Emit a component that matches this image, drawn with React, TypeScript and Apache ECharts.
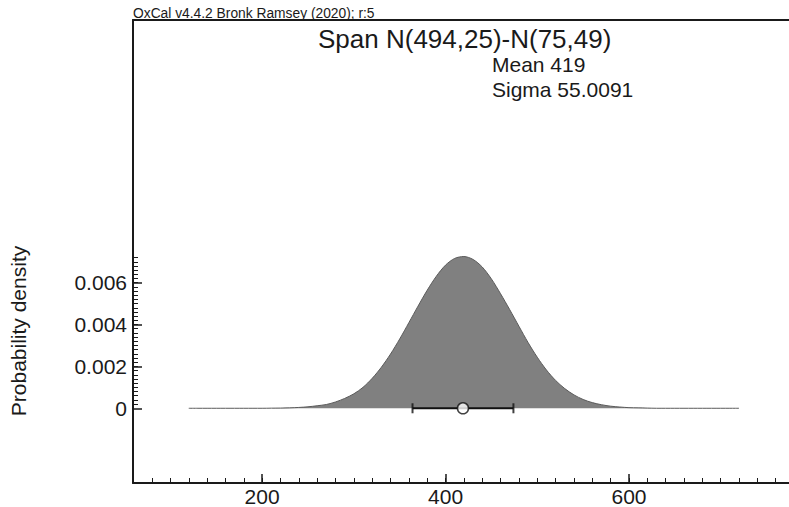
import React, { useEffect, useRef } from "react";
import * as echarts from "echarts";

// ---- data ----
const headerText = "OxCal v4.4.2 Bronk Ramsey (2020); r:5";
const titleText = "Span N(494,25)-N(75,49)";
const meanValue = 419;
const sigmaValue = 55.0091;
const statLines = ["Mean 419", "Sigma 55.0091"];
const yAxisName = "Probability density";

const spanX = [
  120, 130, 140, 150, 160, 170, 180, 190, 200, 210, 220, 230, 240, 250, 260,
  270, 280, 290, 300, 310, 320, 330, 340, 350, 360, 370, 380, 390, 400, 410,
  420, 430, 440, 450, 460, 470, 480, 490, 500, 510, 520, 530, 540, 550, 560,
  570, 580, 590, 600, 610, 620, 630, 640, 650, 660, 670, 680, 690, 700, 710,
  720,
];
const spanDensity = [
  0, 0, 0, 0, 0, 0, 0, 0, 0, 0.000005, 0.00001, 0.00002, 0.00004, 0.00007,
  0.00012, 0.00018, 0.0003, 0.00047, 0.00069, 0.001, 0.00143, 0.00196, 0.00259,
  0.00331, 0.00409, 0.00488, 0.00564, 0.00631, 0.00684, 0.00716, 0.00725,
  0.00711, 0.00675, 0.00618, 0.00547, 0.00471, 0.00392, 0.00314, 0.00244,
  0.00183, 0.00133, 0.00094, 0.00064, 0.00042, 0.00027, 0.00017, 0.0001,
  0.00006, 0.00003, 0.00002, 0.00001, 0, 0, 0, 0, 0, 0, 0, 0, 0, 0,
];

const xMajorTicks = [200, 400, 600];
const xTickLabels = ["200", "400", "600"];
const yMajorTicks = [0, 0.002, 0.004, 0.006];
const yTickLabels = ["0", "0.002", "0.004", "0.006"];

const X_MIN = 59.2;
const X_MAX = 774.5;
const Y_MIN = -0.00357;
const Y_MAX = 0.01855;

const xMinorTicks: number[] = [];
for (let v = 80; v <= 760; v += 20) xMinorTicks.push(v);
const yMinorTicks: number[] = [];
for (let i = 1; i <= 36; i++) yMinorTicks.push(+(i * 0.0002).toFixed(4));

const FONT = "'Liberation Sans', Arial, Helvetica, sans-serif";
const INK = "#1a1a1a";

export default function App() {
  const ref = useRef<HTMLDivElement>(null);

  useEffect(() => {
    if (!ref.current) return;
    const chart = echarts.init(ref.current, undefined, { renderer: "svg" });

    const curve = spanX.map((x, i) => [x, spanDensity[i]]);
    const lo = meanValue - sigmaValue;
    const hi = meanValue + sigmaValue;

    const option: any = {
      animation: false,
      backgroundColor: "#ffffff",
      textStyle: { fontFamily: FONT },
      grid: { left: 133, right: 0, top: 20, bottom: 24, containLabel: false },
      xAxis: [
        {
          type: "value",
          min: X_MIN,
          max: X_MAX,
          position: "bottom",
          axisLine: { show: true, onZero: false, lineStyle: { color: INK, width: 2 } },
          axisTick: {
            show: true,
            inside: true,
            length: 9,
            customValues: xMajorTicks,
            lineStyle: { color: INK, width: 1.5 },
          },
          axisLabel: {
            show: true,
            customValues: xMajorTicks,
            formatter: (v: number) => xTickLabels[xMajorTicks.indexOf(v)] ?? "",
            fontSize: 21,
            color: INK,
            fontFamily: FONT,
            margin: 3,
          },
          splitLine: { show: false },
        },
        {
          type: "value",
          min: X_MIN,
          max: X_MAX,
          position: "bottom",
          axisLine: { show: false, onZero: false },
          axisTick: {
            show: true,
            inside: true,
            length: 5,
            customValues: xMinorTicks,
            lineStyle: { color: INK, width: 1 },
          },
          axisLabel: { show: false },
          splitLine: { show: false },
        },
        {
          type: "value",
          min: X_MIN,
          max: X_MAX,
          position: "top",
          axisLine: { show: true, onZero: false, lineStyle: { color: INK, width: 2 } },
          axisTick: { show: false },
          axisLabel: { show: false },
          splitLine: { show: false },
        },
      ],
      yAxis: [
        {
          type: "value",
          min: Y_MIN,
          max: Y_MAX,
          position: "left",
          axisLine: { show: true, onZero: false, lineStyle: { color: INK, width: 2 } },
          axisTick: {
            show: true,
            inside: true,
            length: 9,
            customValues: yMajorTicks,
            lineStyle: { color: INK, width: 1.5 },
          },
          axisLabel: {
            show: true,
            customValues: yMajorTicks,
            formatter: (v: number) => {
              const idx = yMajorTicks.findIndex((t) => Math.abs(t - v) < 1e-9);
              return idx >= 0 ? yTickLabels[idx] : "";
            },
            fontSize: 21,
            color: INK,
            fontFamily: FONT,
            margin: 6,
          },
          splitLine: { show: false },
        },
        {
          type: "value",
          min: Y_MIN,
          max: Y_MAX,
          position: "left",
          axisLine: { show: false, onZero: false },
          axisTick: {
            show: true,
            inside: true,
            length: 5,
            customValues: yMinorTicks,
            lineStyle: { color: INK, width: 1 },
          },
          axisLabel: { show: false },
          splitLine: { show: false },
        },
      ],
      graphic: [
        {
          type: "text",
          x: 133,
          y: 13,
          style: {
            text: headerText,
            font: `13.8px ${FONT}`,
            fill: INK,
            textAlign: "left",
            textVerticalAlign: "middle",
          },
        },
        {
          type: "text",
          x: 318,
          y: 39,
          style: {
            text: titleText,
            font: `26px ${FONT}`,
            fill: INK,
            textAlign: "left",
            textVerticalAlign: "middle",
          },
        },
        {
          type: "text",
          x: 492,
          y: 64,
          style: {
            text: statLines[0],
            font: `21px ${FONT}`,
            fill: INK,
            textAlign: "left",
            textVerticalAlign: "middle",
          },
        },
        {
          type: "text",
          x: 492,
          y: 89,
          style: {
            text: statLines[1],
            font: `21px ${FONT}`,
            fill: INK,
            textAlign: "left",
            textVerticalAlign: "middle",
          },
        },
        {
          type: "text",
          x: 18,
          y: 331,
          rotation: Math.PI / 2,
          style: {
            text: yAxisName,
            font: `21px ${FONT}`,
            fill: INK,
            textAlign: "center",
            textVerticalAlign: "middle",
          },
        },
      ],
      series: [
        {
          type: "line",
          xAxisIndex: 0,
          yAxisIndex: 0,
          data: curve,
          showSymbol: false,
          smooth: 0.3,
          lineStyle: { color: "#5a5a5a", width: 1 },
          areaStyle: { color: "#808080", opacity: 1, origin: 0 },
          z: 2,
        },
        {
          type: "line",
          xAxisIndex: 0,
          yAxisIndex: 0,
          data: [
            [lo, 0],
            [hi, 0],
          ],
          showSymbol: false,
          lineStyle: { color: "#111111", width: 2 },
          z: 3,
        },
        {
          type: "scatter",
          xAxisIndex: 0,
          yAxisIndex: 0,
          data: [
            [lo, 0],
            [hi, 0],
          ],
          symbol: "rect",
          symbolSize: [2, 10],
          itemStyle: { color: "#111111" },
          z: 4,
        },
        {
          type: "scatter",
          xAxisIndex: 0,
          yAxisIndex: 0,
          data: [[meanValue, 0]],
          symbol: "circle",
          symbolSize: 11,
          itemStyle: { color: "#ffffff", borderColor: "#111111", borderWidth: 1.5 },
          z: 5,
        },
      ],
    };

    chart.setOption(option);
    return () => chart.dispose();
  }, []);

  return (
    <div
      ref={ref}
      style={{ position: "absolute", left: 0, top: 0, width: 789, height: 507 }}
    />
  );
}
